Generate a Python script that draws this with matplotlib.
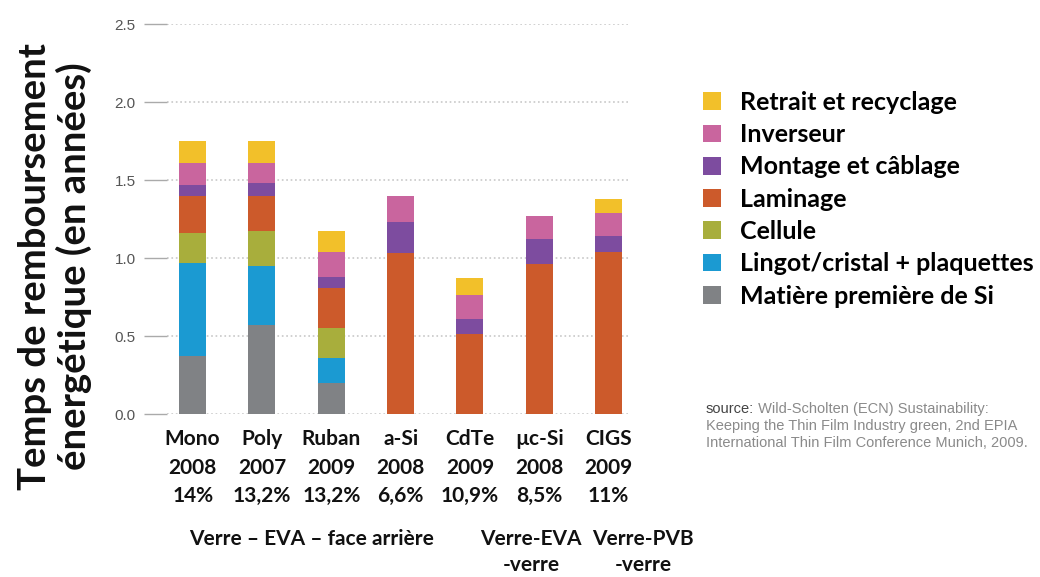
import matplotlib
matplotlib.use('Agg')
import numpy as np
import matplotlib.pyplot as plt

# categories (technology / year / efficiency)
categories = ['Mono\n2008\n14%', 'Poly\n2007\n13,2%', 'Ruban\n2009\n13,2%',
              'a-Si\n2008\n6,6%', 'CdTe\n2009\n10,9%', 'µc-Si\n2008\n8,5%',
              'CIGS\n2009\n11%']

# stacked components, bottom to top (years)
matiere = [0.37, 0.57, 0.20, 0.0, 0.0, 0.0, 0.0]
lingot = [0.60, 0.38, 0.16, 0.0, 0.0, 0.0, 0.0]
cellule = [0.19, 0.22, 0.19, 0.0, 0.0, 0.0, 0.0]
laminage = [0.24, 0.23, 0.26, 1.03, 0.51, 0.96, 1.04]
montage = [0.07, 0.08, 0.07, 0.20, 0.10, 0.16, 0.10]
inverseur = [0.14, 0.13, 0.16, 0.17, 0.15, 0.15, 0.15]
retrait = [0.14, 0.14, 0.13, 0.0, 0.11, 0.0, 0.09]

series_names = ['Matière première de Si', 'Lingot/cristal + plaquettes', 'Cellule',
                'Laminage', 'Montage et câblage', 'Inverseur', 'Retrait et recyclage']
series_values = [matiere, lingot, cellule, laminage, montage, inverseur, retrait]
colors = ['#808285', '#1b9ad2', '#a8ae3c', '#cc5a2b', '#7d4c9f', '#c9659e', '#f2c02a']

yticks = [0.0, 0.5, 1.0, 1.5, 2.0, 2.5]

groups = ['Verre – EVA – face arrière', 'Verre-EVA\n-verre', 'Verre-PVB\n-verre']
group_x = [1.71, 4.88, 6.5]

source_head = 'source:'
source_lines = [' Wild-Scholten (ECN) Sustainability:',
                'Keeping the Thin Film Industry green, 2nd EPIA',
                'International Thin Film Conference Munich, 2009.']

main_font = ['Lato', 'DejaVu Sans']
small_font = ['Liberation Sans', 'DejaVu Sans']

fig = plt.figure(figsize=(10.4, 5.77), dpi=100)
ax = fig.add_axes([167 / 1040, 1 - 414 / 577, 461 / 1040, 390 / 577])

x = np.arange(len(categories))
bottom = np.zeros(len(categories))
handles = []
for name, vals, col in zip(series_names, series_values, colors):
    vals = np.array(vals)
    b = ax.bar(x, vals, width=0.39, bottom=bottom, color=col, edgecolor='none',
               label=name, zorder=3)
    handles.append(b)
    bottom += vals

ax.set_xlim(-0.37, 6.28)
ax.set_ylim(0, 2.5)
ax.set_yticks(yticks)
ax.set_yticklabels([f'{v:.1f}' for v in yticks], family=small_font,
                   fontsize=11, color='#555555')
ax.yaxis.grid(True, linestyle=':', color='#c8c8c8', linewidth=1.2, zorder=0)
ax.tick_params(axis='y', length=16.5, width=1, color='#aaaaaa', pad=6)
ax.set_xticks(x)
ax.set_xticklabels(categories, family=main_font, fontweight='bold',
                   fontsize=15, linespacing=1.52, color='#111111')
ax.tick_params(axis='x', length=0, pad=11)
for s in ax.spines.values():
    s.set_visible(False)

fig.text(55 / 1040, 1 - 266 / 577,
         'Temps de remboursement\nénergétique (en années)',
         rotation=90, ha='center', va='center', family=main_font,
         fontweight='bold', fontsize=27.5, linespacing=1.15, color='#111111')

for g, gx in zip(groups, group_x):
    ax.text(gx, -(529 - 414) / 390, g, transform=ax.get_xaxis_transform(),
            ha='center', va='top', family=main_font, fontweight='bold',
            fontsize=15, linespacing=1.38, color='#111111')

leg = fig.legend(handles[::-1], series_names[::-1], loc='upper left',
                 bbox_to_anchor=(703 / 1040, 1 - 91 / 577), frameon=False,
                 prop={'family': main_font, 'weight': 'bold', 'size': 18},
                 handlelength=0.72, handleheight=0.72, handletextpad=0.75,
                 labelspacing=0.37, borderaxespad=0, borderpad=0)

t0 = fig.text(706 / 1040, 1 - 413 / 577, source_head, family=small_font,
              fontsize=10.5, color='#444444', ha='left', va='baseline')
ax.annotate(source_lines[0], xy=(1, 0), xycoords=t0, family=small_font,
            fontsize=10.5, color='#8a8a8a', ha='left', va='bottom')
fig.text(706 / 1040, 1 - 430 / 577, source_lines[1], family=small_font,
         fontsize=10.5, color='#8a8a8a', ha='left', va='baseline')
fig.text(706 / 1040, 1 - 447 / 577, source_lines[2], family=small_font,
         fontsize=10.5, color='#8a8a8a', ha='left', va='baseline')

fig.savefig('out.png', dpi=100)
